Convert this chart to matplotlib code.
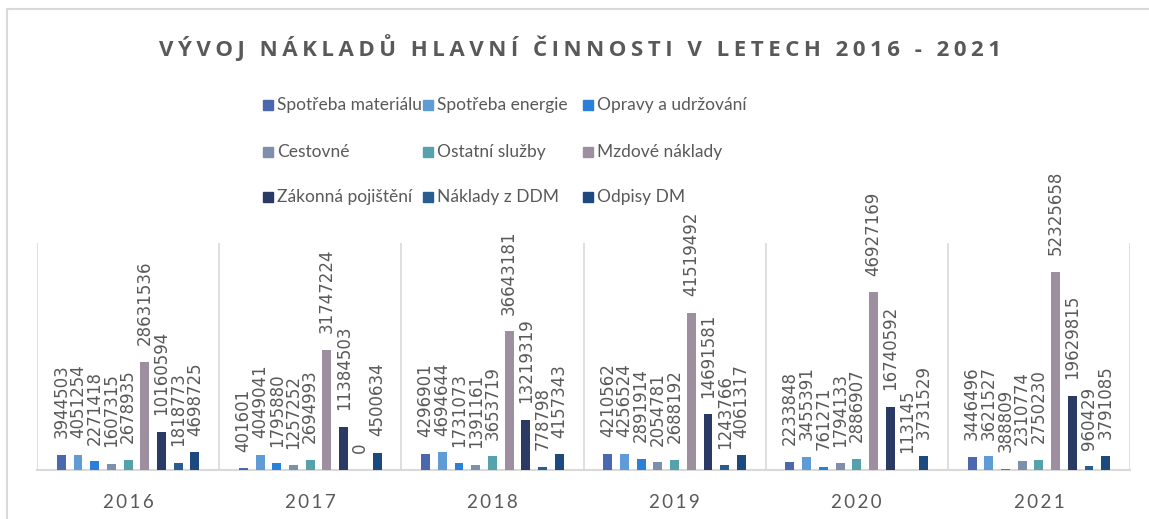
import numpy as np
import matplotlib
matplotlib.use("Agg")
import matplotlib.pyplot as plt
from matplotlib.patches import Rectangle

# data
years = ["2016", "2017", "2018", "2019", "2020", "2021"]
series_names = [
    "Spotřeba materiálu", "Spotřeba energie", "Opravy a udržování",
    "Cestovné", "Ostatní služby", "Mzdové náklady",
    "Zákonná pojištění", "Náklady z DDM", "Odpisy DM",
]
spotreba_materialu = [3944503, 401601, 4296901, 4210562, 2233848, 3446496]
spotreba_energie = [4051254, 4049041, 4694644, 4256524, 3455391, 3621527]
opravy = [2271418, 1795880, 1731073, 2891914, 761271, 388809]
cestovne = [1607315, 1257252, 1391161, 2054781, 1794133, 2310774]
ostatni_sluzby = [2678935, 2694993, 3653719, 2688192, 2886907, 2750230]
mzdove = [28631536, 31747224, 36643181, 41519492, 46927169, 52325658]
zakonna = [10160594, 11384503, 13219319, 14691581, 16740592, 19629815]
naklady_ddm = [1818773, 0, 778798, 1243766, 113145, 960429]
odpisy_dm = [4698725, 4500634, 4157343, 4061317, 3731529, 3791085]

all_series = [spotreba_materialu, spotreba_energie, opravy, cestovne,
              ostatni_sluzby, mzdove, zakonna, naklady_ddm, odpisy_dm]
colors = ["#4a67b0", "#5f9bd5", "#2a7fd9", "#7d8fab", "#56a2ac",
          "#9d8fa0", "#2b3a64", "#275d8f", "#1d4a7e"]

TXT = "#595959"
GRID = "#d9d9d9"
FAM = ["Lato", "DejaVu Sans"]


def spaced(s, sep="\u2009"):
    return sep.join(s)


W, H = 1149, 519
fig = plt.figure(figsize=(W / 100, H / 100), dpi=100)
ax = fig.add_axes([37 / W, (H - 470) / H, 1093 / W, 227 / H])

x = np.arange(len(years))
slot = 0.0917
bw = 0.049
n = len(all_series)
for i, (vals, col) in enumerate(zip(all_series, colors)):
    pos = x + (i - (n - 1) / 2) * slot
    bars = ax.bar(pos, vals, width=bw, color=col, zorder=3)
    ax.bar_label(bars, labels=[str(v) for v in vals], rotation=90,
                 padding=12, color=TXT, fontsize=12, family="DejaVu Sans")

ax.set_xlim(-0.5, len(years) - 0.5)
ax.set_ylim(0, 60000000)
for b in np.arange(-0.5, len(years), 1.0):
    ax.axvline(b, color=GRID, lw=1.2, zorder=1)
for s in ["top", "left", "right"]:
    ax.spines[s].set_visible(False)
ax.spines["bottom"].set_color(GRID)
ax.spines["bottom"].set_linewidth(1.5)
ax.set_yticks([])
ax.set_xticks(x)
ax.set_xticklabels([spaced(y) for y in years], color=TXT, fontsize=13.5,
                   family=FAM)
ax.tick_params(axis="x", length=0, pad=17)

# title
fig.text(580 / W, 1 - 48 / H,
         spaced("VÝVOJ NÁKLADŮ HLAVNÍ ČINNOSTI V LETECH 2016 - 2021"),
         ha="center", va="center", fontsize=16, fontweight="bold",
         color=TXT, family=["Open Sans", "DejaVu Sans"])

# legend, three columns like the original
col_x = [263, 423, 583]
row_y = [105, 152, 197]
for i, (name, col) in enumerate(zip(series_names, colors)):
    cx = col_x[i % 3]
    cy = row_y[i // 3]
    fig.patches.append(Rectangle((cx / W, 1 - (cy + 5) / H), 10 / W, 10 / H,
                                 transform=fig.transFigure, color=col))
    fig.text((cx + 14) / W, 1 - cy / H, name, ha="left", va="center",
             fontsize=12.5, color=TXT, family=FAM)

# chart border (cut off at right and bottom)
fig.patches.append(Rectangle((7 / W, -0.05), 1.2, 1 - 9 / H + 0.05,
                             transform=fig.transFigure, fill=False,
                             edgecolor=GRID, lw=1.5))

fig.savefig("out.png", dpi=100)
